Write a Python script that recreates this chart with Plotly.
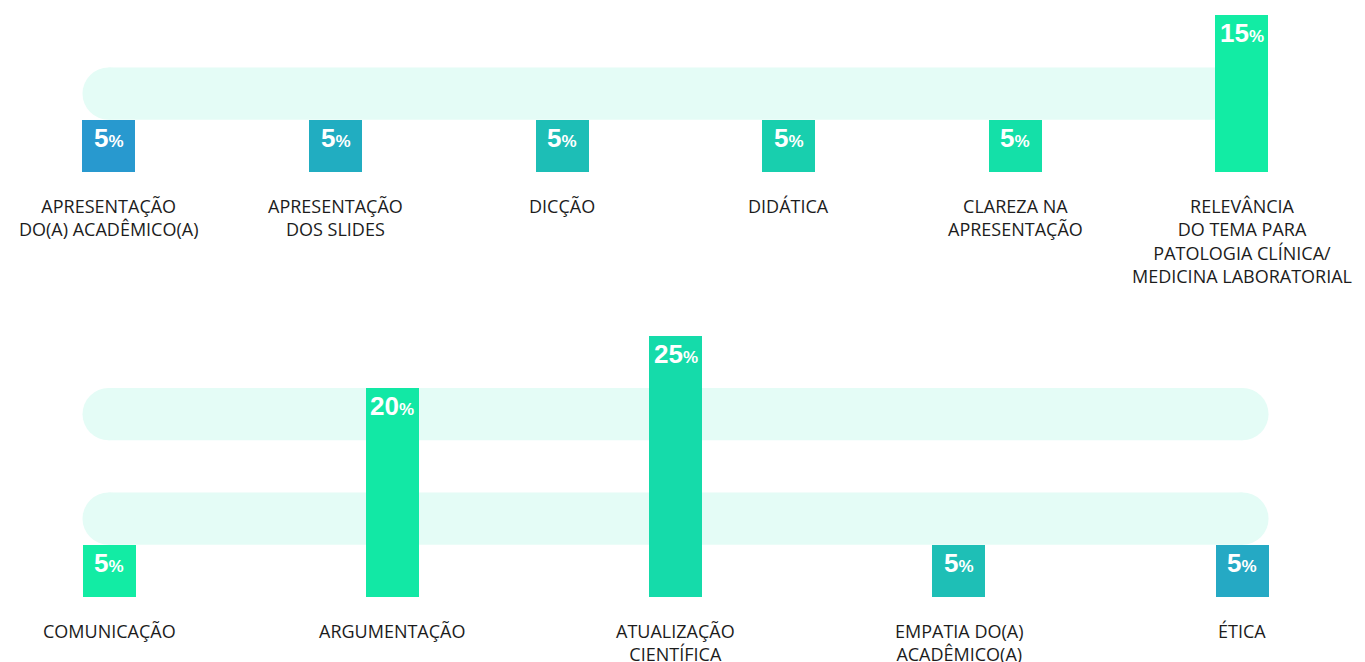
import plotly.graph_objects as go

# ---- data ----
top_labels = ["APRESENTAÇÃO<br>DO(A) ACADÊMICO(A)", "APRESENTAÇÃO<br>DOS SLIDES", "DICÇÃO",
              "DIDÁTICA", "CLAREZA NA<br>APRESENTAÇÃO",
              "RELEVÂNCIA<br>DO TEMA PARA<br>PATOLOGIA CLÍNICA/<br>MEDICINA LABORATORIAL"]
top_values = [5, 5, 5, 5, 5, 15]
top_colors = ["#2899cf", "#21adc1", "#1dbeb6", "#18cfae", "#14e0a8", "#12eca4"]

bot_labels = ["COMUNICAÇÃO", "ARGUMENTAÇÃO", "ATUALIZAÇÃO<br>CIENTÍFICA",
              "EMPATIA DO(A)<br>ACADÊMICO(A)", "ÉTICA"]
bot_values = [5, 20, 25, 5, 5]
bot_colors = ["#12eca4", "#12e8a5", "#15dbaa", "#1ebfb6", "#25a9c4"]

top_bands = [(5, 10)]
bot_bands = [(5, 10), (15, 20)]

W, H = 1365, 662
PILL = "#e4fcf6"
LABEL_FONT = dict(family="Open Sans", size=18, color="#1c1c1c")

fig = go.Figure()

top_x = list(range(len(top_values)))
bot_x = list(range(len(bot_values)))

top_range = [-0.481, 5.543]
bot_range = [-0.3848, 4.434]
top_w = 53 / (W / (top_range[1] - top_range[0]))
bot_w = 53 / (W / (bot_range[1] - bot_range[0]))

fig.add_trace(go.Bar(x=top_x, y=top_values, marker=dict(color=top_colors, line=dict(width=0)),
                     width=top_w, xaxis="x", yaxis="y", hoverinfo="skip", showlegend=False))
fig.add_trace(go.Bar(x=bot_x, y=bot_values, marker=dict(color=bot_colors, line=dict(width=0)),
                     width=bot_w, xaxis="x2", yaxis="y2", hoverinfo="skip", showlegend=False))

shapes = []
def add_pills(xs, w, bands, xref, yref, xr):
    px_per_x = W / (xr[1] - xr[0])
    r = 26 / px_per_x
    left = xs[0] - w / 2
    right = xs[-1] + w / 2
    for (b0, b1) in bands:
        shapes.append(dict(type="rect", xref=xref, yref=yref, x0=left + r, x1=right - r, y0=b0, y1=b1,
                           fillcolor=PILL, line=dict(width=0), layer="below"))
        shapes.append(dict(type="circle", xref=xref, yref=yref, x0=left, x1=left + 2 * r, y0=b0, y1=b1,
                           fillcolor=PILL, line=dict(width=0), layer="below"))
        shapes.append(dict(type="circle", xref=xref, yref=yref, x0=right - 2 * r, x1=right, y0=b0, y1=b1,
                           fillcolor=PILL, line=dict(width=0), layer="below"))

add_pills(top_x, top_w, top_bands, "x", "y", top_range)
add_pills(bot_x, bot_w, bot_bands, "x2", "y2", bot_range)

annotations = []
def add_texts(xs, vals, labels, xref, yref):
    for x, v, lab in zip(xs, vals, labels):
        annotations.append(dict(
            x=x, y=v, xref=xref, yref=yref, yanchor="top", xanchor="center", yshift=-1,
            text=f"<b>{v}</b><b><span style='font-size:17px'>%</span></b>",
            showarrow=False, font=dict(family="Liberation Sans", size=26, color="white")))
        annotations.append(dict(
            x=x, y=0, xref=xref, yref=yref, yanchor="top", xanchor="center", yshift=-20,
            text=lab, showarrow=False, align="center", font=LABEL_FONT))

add_texts(top_x, top_values, top_labels, "x", "y")
add_texts(bot_x, bot_values, bot_labels, "x2", "y2")

ax = dict(showgrid=False, zeroline=False, showticklabels=False, showline=False, fixedrange=True)
fig.update_layout(
    width=W, height=H,
    margin=dict(l=0, r=0, t=0, b=0),
    paper_bgcolor="white", plot_bgcolor="rgba(0,0,0,0)",
    xaxis=dict(domain=[0, 1], range=top_range, anchor="y", **ax),
    yaxis=dict(domain=[1 - 172 / H, 1], range=[0, 172 / 10.45], anchor="x", **ax),
    xaxis2=dict(domain=[0, 1], range=bot_range, anchor="y2", **ax),
    yaxis2=dict(domain=[1 - 597 / H, 1 - 320 / H], range=[0, 277 / 10.45], anchor="x2", **ax),
    shapes=shapes, annotations=annotations, bargap=0,
)

fig.write_html("out.html", config={"displayModeBar": False},
               post_script="document.body.style.margin='0';document.body.style.overflow='hidden';")
